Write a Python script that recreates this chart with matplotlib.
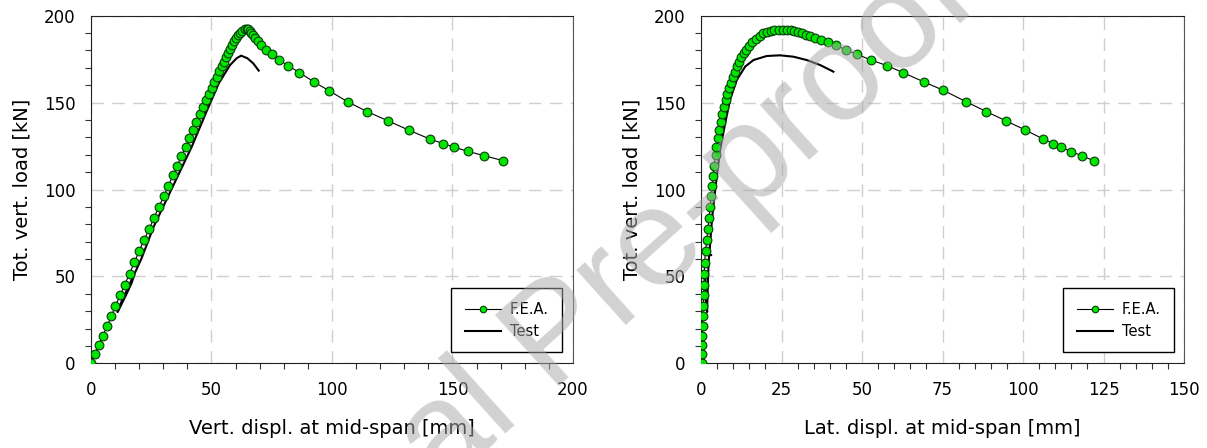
import numpy as np
import matplotlib.pyplot as plt
from matplotlib.ticker import MultipleLocator

# F.E.A. results - vertical displacement vs load (left plot)
fea_v_x = [0, 1.6, 3.2, 4.8, 6.7, 8.4, 10, 12.1, 14, 16, 18, 19.9, 21.9, 24.2, 26.1,
           28.1, 30.2, 32.1, 34, 35.8, 37.5, 39.3, 40.7, 42.3, 43.7, 45.2, 46.4, 47.7,
           48.9, 50.1, 51.2, 52.3, 53.3, 54.2, 55.2, 56.1, 56.9, 57.7, 58.5, 59.3, 60.1,
           60.9, 61.8, 62.8, 63.8, 64.7, 65.3, 66, 66.6, 67.3, 68.2, 69.3, 70.7, 72.8,
           75.2, 78.1, 81.9, 86.5, 92.4, 98.7, 106.7, 114.6, 123.1, 131.8, 140.5, 146.1,
           150.6, 156.3, 163, 171]
fea_load = [0, 5.4, 10.5, 15.7, 21.3, 27, 32.8, 39.1, 45.3, 51.6, 58.1, 64.4, 70.8, 77.3,
            83.6, 89.9, 96.1, 102.2, 108.1, 113.7, 119.3, 124.4, 129.4, 134.4, 138.8,
            143.2, 147.5, 151.3, 154.9, 158.4, 161.6, 164.9, 168, 170.9, 173.5, 176.2,
            178.7, 181, 183.1, 185.2, 187.2, 188.9, 190.2, 191.4, 192.2, 192.5, 192.2,
            191.4, 190.2, 189.1, 187.4, 185.4, 183.1, 180.4, 177.8, 174.5, 171.2, 167.2,
            162, 156.9, 150.3, 144.8, 139.6, 134.2, 129.1, 126.4, 124.4, 122, 119.5, 116.6]

# F.E.A. results - lateral displacement vs load (right plot)
fea_l_x = [0.2, 0.2, 0.3, 0.4, 0.5, 0.6, 0.7, 0.8, 0.9, 1.0, 1.1, 1.4, 1.8, 2.1, 2.5, 2.8,
           3.1, 3.5, 3.8, 4.1, 4.5, 4.8, 5.2, 5.7, 6.1, 6.6, 7.1, 7.7, 8.2, 8.7, 9.2, 9.8,
           10.5, 11.2, 11.8, 12.5, 13.3, 14.1, 14.9, 15.9, 17.1, 18.2, 19.4, 20.5, 21.6,
           22.8, 24.1, 25.5, 26.8, 27.9, 29, 30.2, 31.4, 32.6, 33.9, 35.4, 37.2, 39.3,
           41.9, 45, 48.4, 52.8, 57.7, 62.8, 69.2, 75.2, 82.2, 88.6, 94.6, 100.7, 106.1,
           109.4, 111.8, 114.9, 118.2, 121.9]
fea_l_load = [0, 5.4, 10.5, 15.7, 21.3, 27.2, 33.2, 39.1, 45.1, 51.4, 57.9, 64.4, 70.8,
              77.1, 83.6, 89.9, 96.3, 102.2, 108, 113.7, 119.7, 124.7, 129.5, 134.3, 138.9,
              143.3, 147.5, 151.3, 155, 158.4, 161.5, 164.9, 167.8, 170.9, 173.6, 176.1,
              178.4, 180.5, 182.6, 184.7, 186.6, 188.3, 189.9, 190.8, 191.4, 191.8, 191.8,
              191.8, 191.8, 191.6, 191, 190.4, 189.9, 189.1, 188.3, 187.4, 186.2, 184.9,
              183, 180.3, 177.8, 174.5, 171.3, 167.2, 161.9, 157.1, 150.6, 144.8, 139.6,
              134.2, 129.2, 126.4, 124.4, 121.8, 119.5, 116.6]

# Test curves
test_v_x = [17.0, 14.5, 12.5, 11.0, 12.3, 14.6, 16.8, 18.2, 21, 26, 33.9, 41.8, 48.2, 53,
            57.7, 60.5, 62.3, 64.9, 67.3, 69.6]
test_v_load = [48.5, 41.0, 35.0, 29.5, 33.0, 39.5, 46.0, 52.0, 60.5, 78.6, 101.6, 124.6,
               145.7, 161, 171.6, 175.6, 177, 175.5, 172.6, 168.4]

test_l_x = [1.4, 1.3, 1.5, 1.9, 2.1, 2.3, 2.5, 3.2, 2.6, 2.8, 3.2, 3.8, 4.9, 5.9, 7.5, 9,
            11.1, 13.7, 16.3, 20.4, 24.5, 28.7, 32.8, 37, 41.1]
test_l_load = [52, 44, 36, 29.5, 45, 55, 62, 62.3, 62.6, 68, 78, 90.1, 107.4, 122.7, 138.1,
               151.5, 163, 170.7, 174.5, 176.8, 177.2, 176.4, 174.5, 171.6, 167.8]

green = '#00e600'

fig = plt.figure(figsize=(12.07, 4.48), dpi=100)
ax1 = fig.add_axes([0.0754, 0.189, 0.3993, 0.776])
ax2 = fig.add_axes([0.5808, 0.189, 0.4002, 0.776])

setups = [
    (ax1, fea_v_x, fea_load, test_v_x, test_v_load, 200, 50, 10,
     'Vert. displ. at mid-span [mm]', (0.977, 0.0325)),
    (ax2, fea_l_x, fea_l_load, test_l_x, test_l_load, 150, 25, 5,
     'Lat. displ. at mid-span [mm]', (0.979, 0.0325)),
]

for ax, fx, fy, tx, ty, xmax, xmaj, xmin, xlab, lpos in setups:
    ax.plot(tx, ty, color='black', lw=1.5, label='Test', zorder=3)
    ax.plot(fx, fy, color='black', lw=0.8, marker='o', ms=6.3, mfc=green,
            mec='#0a3a0a', mew=0.8, label='F.E.A.', zorder=4)
    ax.set_xlim(0, xmax)
    ax.set_ylim(0, 200)
    ax.xaxis.set_major_locator(MultipleLocator(xmaj))
    ax.xaxis.set_minor_locator(MultipleLocator(xmin))
    ax.yaxis.set_major_locator(MultipleLocator(50))
    ax.yaxis.set_minor_locator(MultipleLocator(10))
    ax.tick_params(which='major', length=0, labelsize=12)
    ax.tick_params(axis='x', which='major', pad=13)
    ax.tick_params(axis='y', which='major', pad=11)
    ax.tick_params(which='minor', length=4, width=0.8, direction='out', color='#333333')
    ax.grid(True, which='major', color='#cfcfcf', lw=1.0, linestyle=(0, (9, 6)))
    ax.set_axisbelow(True)
    for s in ['left', 'bottom', 'top']:
        ax.spines[s].set_color('#222222')
    ax.spines['right'].set_color('#555555')
    ax.set_xlabel(xlab, fontsize=14, labelpad=14)
    ax.set_ylabel('Tot. vert. load [kN]', fontsize=14, labelpad=9)
    h, l = ax.get_legend_handles_labels()
    leg = ax.legend(h[::-1], l[::-1], loc='lower right', bbox_to_anchor=lpos,
                    borderaxespad=0, fontsize=10.5, handlelength=2.5, handletextpad=0.6,
                    borderpad=0.9, labelspacing=0.5, fancybox=False, framealpha=1,
                    edgecolor='black', markerscale=0.75)
    leg.get_frame().set_linewidth(1.0)

# journal watermark
fig.text(0.462, 0.245, 'Journal Pre-proof', fontsize=100, rotation=42,
         family='Liberation Sans', color='#a8a8a8', alpha=0.52,
         ha='center', va='center', rotation_mode='anchor', zorder=10)

fig.savefig('out.png', dpi=100)
